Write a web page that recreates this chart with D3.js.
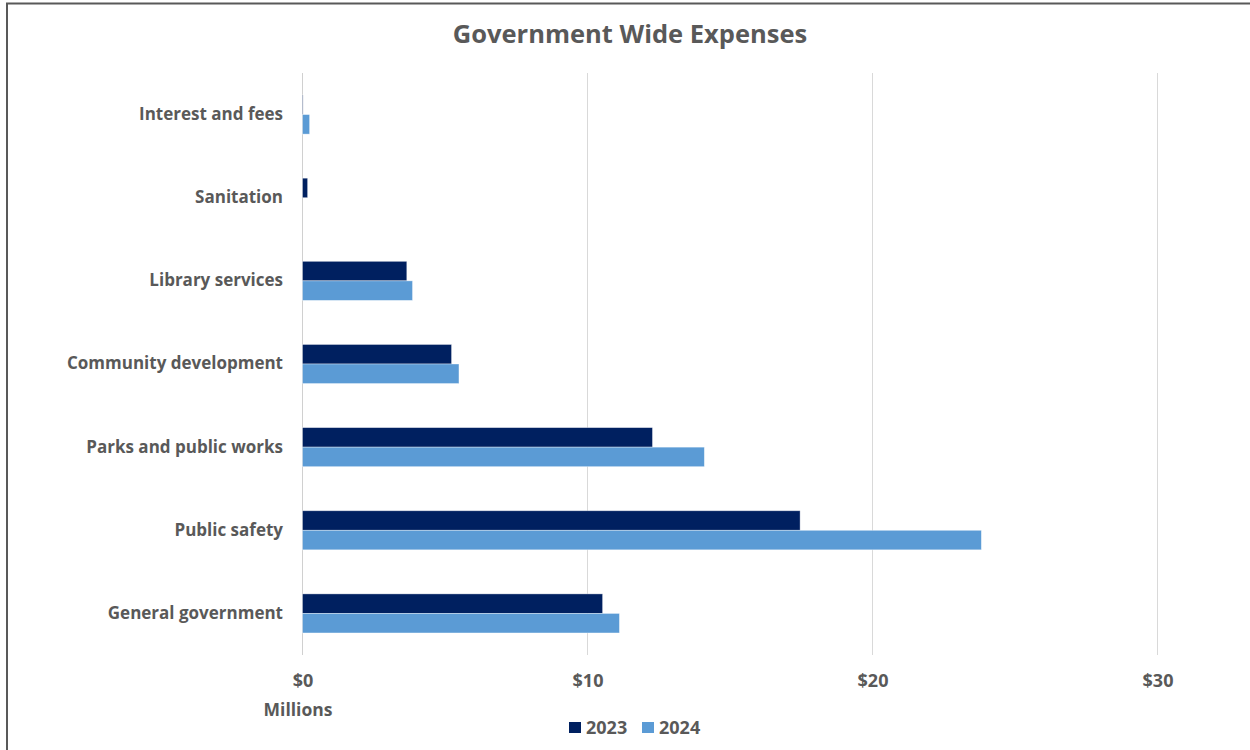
<!DOCTYPE html>
<html><head><meta charset="utf-8">
<script src="https://cdn.jsdelivr.net/npm/d3@7"></script>
<style>body{margin:0;background:#fff;} svg{display:block;}</style>
</head><body>
<svg id="chart" width="1250" height="750"></svg>
<script>
const categories = ["Interest and fees","Sanitation","Library services","Community development","Parks and public works","Public safety","General government"];
const series = ["2023","2024"];
const values2023 = [0.02, 0.18, 3.66, 5.23, 12.28, 17.46, 10.53];
const values2024 = [0.25, 0, 3.86, 5.49, 14.10, 23.82, 11.12];
const tickValues = [0, 10, 20, 30];
const tickLabels = ["$0","$10","$20","$30"];
const colors = ["#002060","#5b9bd5"];

const svg = d3.select("#chart");
const font = "'Open Sans', sans-serif";
const gray = "#595959";

// border
svg.append("rect").attr("x",7).attr("y",3.5).attr("width",1250).attr("height",760)
  .attr("fill","none").attr("stroke","#595959").attr("stroke-width",2);

const x = d3.scaleLinear().domain([0,30]).range([302.5,1157.5]);
const y = d3.scaleBand().domain(categories).range([73,655]).paddingInner(0.53).paddingOuter(0.265);
const ys = d3.scaleBand().domain(series).range([0,y.bandwidth()]);

// gridlines
svg.append("g").selectAll("line").data(tickValues).join("line")
  .attr("x1",d=>x(d)).attr("x2",d=>x(d)).attr("y1",73).attr("y2",655)
  .attr("stroke",d=>d===0?"#d0d0d0":"#d9d9d9").attr("stroke-width",1);

// bars
const data = categories.map((c,i)=>({c, vals:[values2023[i],values2024[i]]}));
const g = svg.append("g");
data.forEach(d=>{
  d.vals.forEach((v,j)=>{
    if (v<=0) return;
    g.append("rect")
      .attr("x",x(0)).attr("y",y(d.c)+ys(series[j]))
      .attr("width",x(v)-x(0)).attr("height",ys.bandwidth())
      .attr("fill",colors[j]).attr("stroke","rgba(255,255,255,0.5)").attr("stroke-width",0.75);
  });
});

// axis labels
const xAxis = d3.axisBottom(x).tickValues(tickValues).tickFormat((d,i)=>tickLabels[i]).tickSize(0).tickPadding(0);
const ax = svg.append("g").attr("transform","translate(0,687)").call(xAxis);
ax.select(".domain").remove();
ax.selectAll("text").attr("font-family",font).attr("font-weight","bold").attr("font-size",18).attr("fill",gray).attr("dy","0");

const yAxis = d3.axisLeft(y).tickSize(0).tickPadding(0);
const ay = svg.append("g").attr("transform","translate(283,0)").call(yAxis);
ay.select(".domain").remove();
ay.selectAll("text").attr("font-family",font).attr("font-weight","bold").attr("font-size",17).attr("fill",gray);

// title
svg.append("text").attr("x",630).attr("y",43).attr("text-anchor","middle")
  .attr("font-family",font).attr("font-weight","bold").attr("font-size",25.5).attr("fill",gray)
  .text("Government Wide Expenses");

// units label
svg.append("text").attr("x",298).attr("y",716).attr("text-anchor","middle")
  .attr("font-family",font).attr("font-weight","bold").attr("font-size",17.5).attr("fill",gray)
  .text("Millions");

// legend
const leg = svg.append("g");
const legX = [569, 642];
series.forEach((s,i)=>{
  leg.append("rect").attr("x",legX[i]).attr("y",722).attr("width",12).attr("height",11).attr("fill",colors[i]);
  leg.append("text").attr("x",legX[i]+17).attr("y",733.5).attr("font-family",font).attr("font-weight","bold")
    .attr("font-size",18).attr("fill",gray).text(s);
});
</script>
</body></html>
